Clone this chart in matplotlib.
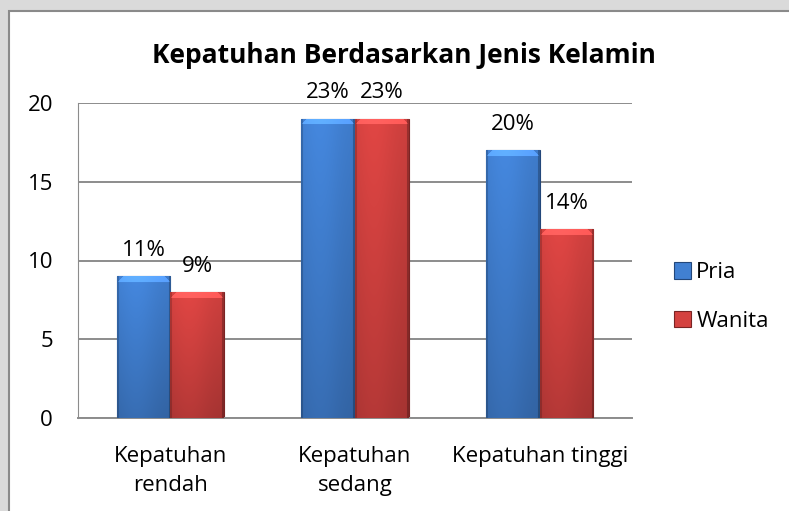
import numpy as np
import matplotlib.pyplot as plt
from matplotlib.patches import Rectangle
from matplotlib.colors import to_rgb

# data
kategori = ['Kepatuhan\nrendah', 'Kepatuhan\nsedang', 'Kepatuhan tinggi']
pria = [9, 19, 17]
wanita = [8, 19, 12]
label_pria = ['11%', '23%', '20%']
label_wanita = ['9%', '23%', '14%']
yticks = [0, 5, 10, 15, 20]

plt.rcParams['font.family'] = ['Open Sans', 'DejaVu Sans']

fig = plt.figure(figsize=(7.89, 5.11), dpi=100)
fig.patch.set_facecolor('#dadada')
# frame putih chart
frame = Rectangle((9 / 789, -0.1), 1.1, 1 - 11 / 511 + 0.1,
                  transform=fig.transFigure, facecolor='white',
                  edgecolor='#8a8a8a', lw=1.5, zorder=-5)
fig.add_artist(frame)

ax = fig.add_axes([78 / 789, 1 - 418 / 511, (632 - 78) / 789, (418 - 103) / 511])
ax.set_facecolor('none')


def shade(ax, bars, warna):
    # gradient + bevel ala Excel
    base = np.array(to_rgb(warna))
    for b in bars:
        x, w, h = b.get_x(), b.get_width(), b.get_height()
        nr = max(int(h * 15.75), 2)
        nc = 53
        u = np.linspace(0, 1, nc)
        prof = 0.93 + 0.1 * np.exp(-((u - 0.35) / 0.4) ** 2)
        img = np.ones((nr, nc, 3)) * base
        img = img * prof[None, :, None]
        v = np.linspace(0, 1, nr)[:, None, None]
        img = img * (1.03 - 0.2 * v)
        bev = 6
        for r in range(min(bev, nr)):
            cut = bev - r
            img[r, cut:nc - cut] = np.clip(img[r, cut:nc - cut] * 1.18 + 0.06, 0, 1)
        img[:, :2] *= 0.82
        img[:, -2:] *= 0.75
        im = ax.imshow(np.clip(img, 0, 1), extent=[x, x + w, 0, h], aspect='auto',
                       zorder=3, interpolation='bilinear')
        im.set_clip_path(b)


xpos = np.arange(len(kategori))
lebar = 0.29
b1 = ax.bar(xpos - lebar / 2, pria, lebar, color='#4180d2', edgecolor='#23477a',
            lw=0.8, zorder=2, label='Pria')
b2 = ax.bar(xpos + lebar / 2, wanita, lebar, color='#d44240', edgecolor='#7a2424',
            lw=0.8, zorder=2, label='Wanita')
shade(ax, b1, '#4180d2')
shade(ax, b2, '#d44240')

for b, t in zip(list(b1) + list(b2), label_pria + label_wanita):
    ax.annotate(t, (b.get_x() + b.get_width() / 2, b.get_height()),
                xytext=(0, 26), textcoords='offset pixels', ha='center',
                va='center', fontsize=16, zorder=5)

ax.set_xlim(-0.5, 2.5)
ax.set_ylim(0, 20)
ax.set_yticks(yticks)
ax.set_xticks(xpos)
ax.set_xticklabels(kategori, fontsize=16, linespacing=1.52)
ax.tick_params(axis='y', length=0, pad=18, labelsize=16)
ax.tick_params(axis='x', length=0, pad=20)
ax.grid(axis='y', color='#8c8c8c', lw=1.4, zorder=1)
ax.set_axisbelow(True)
for s in ['top', 'right']:
    ax.spines[s].set_visible(False)
ax.spines['left'].set_color('#8c8c8c')
ax.spines['bottom'].set_color('#8c8c8c')
ax.spines['bottom'].set_linewidth(1.4)

fig.text(404 / 789, 1 - 55 / 511, 'Kepatuhan Berdasarkan Jenis Kelamin',
         ha='center', va='center', fontsize=19, fontweight='bold')

leg = ax.legend(loc='center left', bbox_to_anchor=(674 / 789, 1 - 297 / 511),
                bbox_transform=fig.transFigure, frameon=False, fontsize=16,
                handlelength=0.75, handleheight=0.75, handletextpad=0.25,
                labelspacing=1.25, borderpad=0, borderaxespad=0)

fig.savefig('out.png', dpi=100, facecolor=fig.get_facecolor())
